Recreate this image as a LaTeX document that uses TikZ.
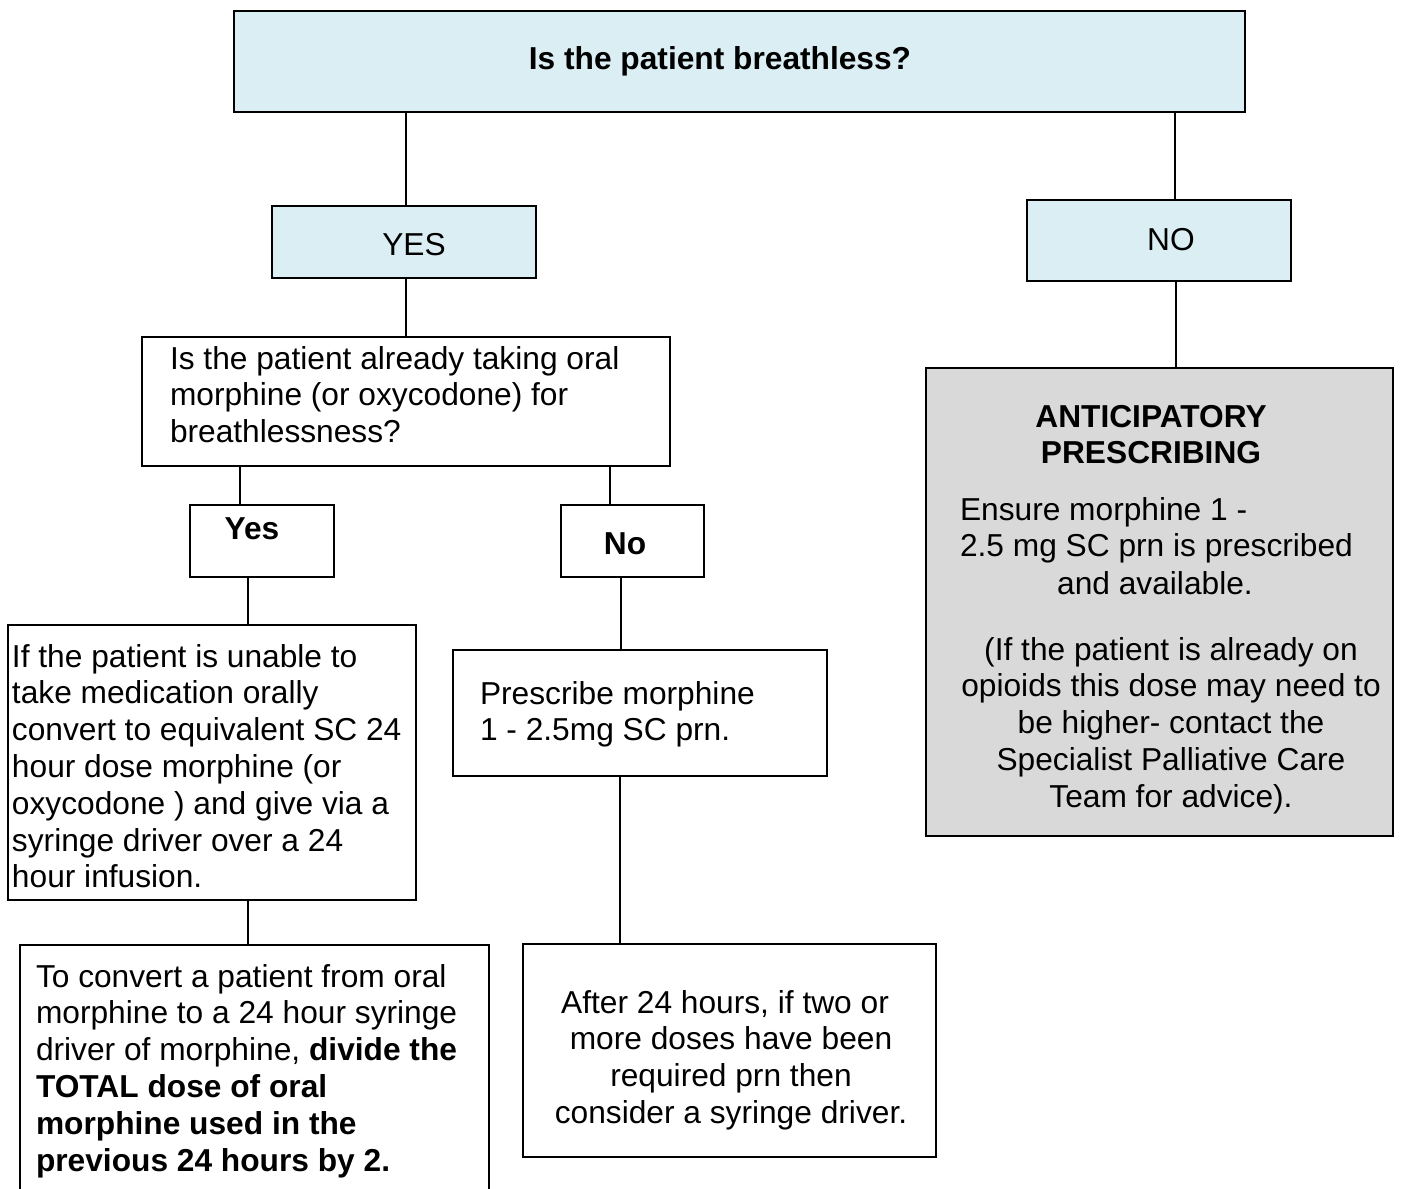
\documentclass[tikz,border=0pt]{standalone}
\usepackage{fontspec}
\setmainfont{Liberation Sans}
\definecolor{boxblue}{HTML}{DAEEF3}
\definecolor{boxgray}{HTML}{D9D9D9}
\newcommand\LinesL[1]{\vtop{\baselineskip=36.8pt\lineskiplimit=-1000pt\halign{##\hfil\cr#1\crcr}}}
\newcommand\LinesC[1]{\vtop{\baselineskip=36.8pt\lineskiplimit=-1000pt\halign{\hfil##\hfil\cr#1\crcr}}}
\begin{document}
\begin{tikzpicture}[x=1pt,y=-1pt,
  box/.style={draw=black, line width=1.6pt, inner sep=0pt, outer sep=0pt, fill=white},
  bluebox/.style={box, fill=boxblue},
  graybox/.style={box, fill=boxgray},
  conn/.style={draw=black, line width=1.2pt},
  txt/.style={inner sep=0pt, outer sep=0pt, font=\fontsize{31.7}{36.8}\selectfont}]
\clip (0,0) rectangle (1402,1188);
\fill[white] (0,0) rectangle (1402,1188);
% boxes
\node[bluebox, minimum width=1011pt, minimum height=101pt] (top) at (739.5,61.5) {};
\node[bluebox, minimum width=264pt, minimum height=72pt] (yes) at (404,242) {};
\node[bluebox, minimum width=264pt, minimum height=81pt] (no) at (1159,240.5) {};
\node[box, minimum width=528pt, minimum height=129pt] (q) at (406,401.5) {};
\node[box, minimum width=144pt, minimum height=72pt] (yes2) at (262,541) {};
\node[box, minimum width=143pt, minimum height=72pt] (no2) at (632.5,541) {};
\node[box, minimum width=408pt, minimum height=275pt] (unable) at (212,762.5) {};
\node[box, minimum width=374pt, minimum height=126pt] (presc) at (640,713) {};
\node[box, minimum width=469pt, minimum height=265pt] (convert) at (254.5,1077.5) {};
\node[box, minimum width=413pt, minimum height=213pt] (after) at (729.5,1050.5) {};
\node[graybox, minimum width=467pt, minimum height=468pt] (antic) at (1159.5,602) {};
% connectors
\draw[conn] (top.south -| 406,0) -- (yes.north -| 406,0);
\draw[conn] (top.south -| 1175,0) -- (no.north -| 1175,0);
\draw[conn] (yes.south -| 406,0) -- (q.north -| 406,0);
\draw[conn] (no.south -| 1176,0) -- (antic.north -| 1176,0);
\draw[conn] (q.south -| 240,0) -- (yes2.north -| 240,0);
\draw[conn] (q.south -| 610,0) -- (no2.north -| 610,0);
\draw[conn] (yes2.south -| 248,0) -- (unable.north -| 248,0);
\draw[conn] (no2.south -| 621,0) -- (presc.north -| 621,0);
\draw[conn] (unable.south -| 248,0) -- (convert.north -| 248,0);
\draw[conn] (presc.south -| 620,0) -- (after.north -| 620,0);
% texts
\node[txt, anchor=base] (ttitle) at (720,70) {\bfseries Is the patient breathless?};
\node[txt, anchor=base] (tyes) at (414,255) {YES};
\node[txt, anchor=base] (tno) at (1171,250) {NO};
\node[txt, anchor=base west] (tq) at (170,369) {\LinesL{Is the patient already taking oral\cr morphine (or oxycodone) for\cr breathlessness?}};
\node[txt, anchor=base] (tyes2) at (252,539) {\bfseries Yes};
\node[txt, anchor=base] (tno2) at (625,554) {\bfseries No};
\node[txt, anchor=base west] (tunable) at (12,667) {\LinesL{If the patient is unable to\cr take medication orally\cr convert to equivalent SC 24\cr hour dose morphine (or\cr oxycodone ) and give via a\cr syringe driver over a 24\cr hour infusion.}};
\node[txt, anchor=base west] (tpresc) at (480,704) {\LinesL{Prescribe morphine\cr 1 - 2.5mg SC prn.}};
\node[txt, anchor=base west] (tconvert) at (36,987) {\LinesL{To convert a patient from oral\cr morphine to a 24 hour syringe\cr driver of morphine, \textbf{divide the}\cr \textbf{TOTAL dose of oral}\cr \textbf{morphine used in the}\cr \textbf{previous 24 hours by 2.}}};
\node[txt, anchor=base] (tafter) at (731,1013) {\LinesC{After 24 hours, if two or\hspace*{12pt}\cr more doses have been\cr required prn then\cr consider a syringe driver.}};
\node[txt, anchor=base] (thead) at (1151,427) {\bfseries\LinesC{ANTICIPATORY\cr PRESCRIBING}};
\node[txt, anchor=base west] (tensure) at (960,520) {\LinesL{Ensure morphine 1 -\cr 2.5 mg SC prn is prescribed}};
\node[txt, anchor=base] (tavail) at (1155,594) {and available.};
\node[txt, anchor=base] (tparen) at (1171,660) {\LinesC{(If the patient is already on\cr opioids this dose may need to\cr be higher- contact the\cr Specialist Palliative Care\cr Team for advice).}};
\end{tikzpicture}
\end{document}
